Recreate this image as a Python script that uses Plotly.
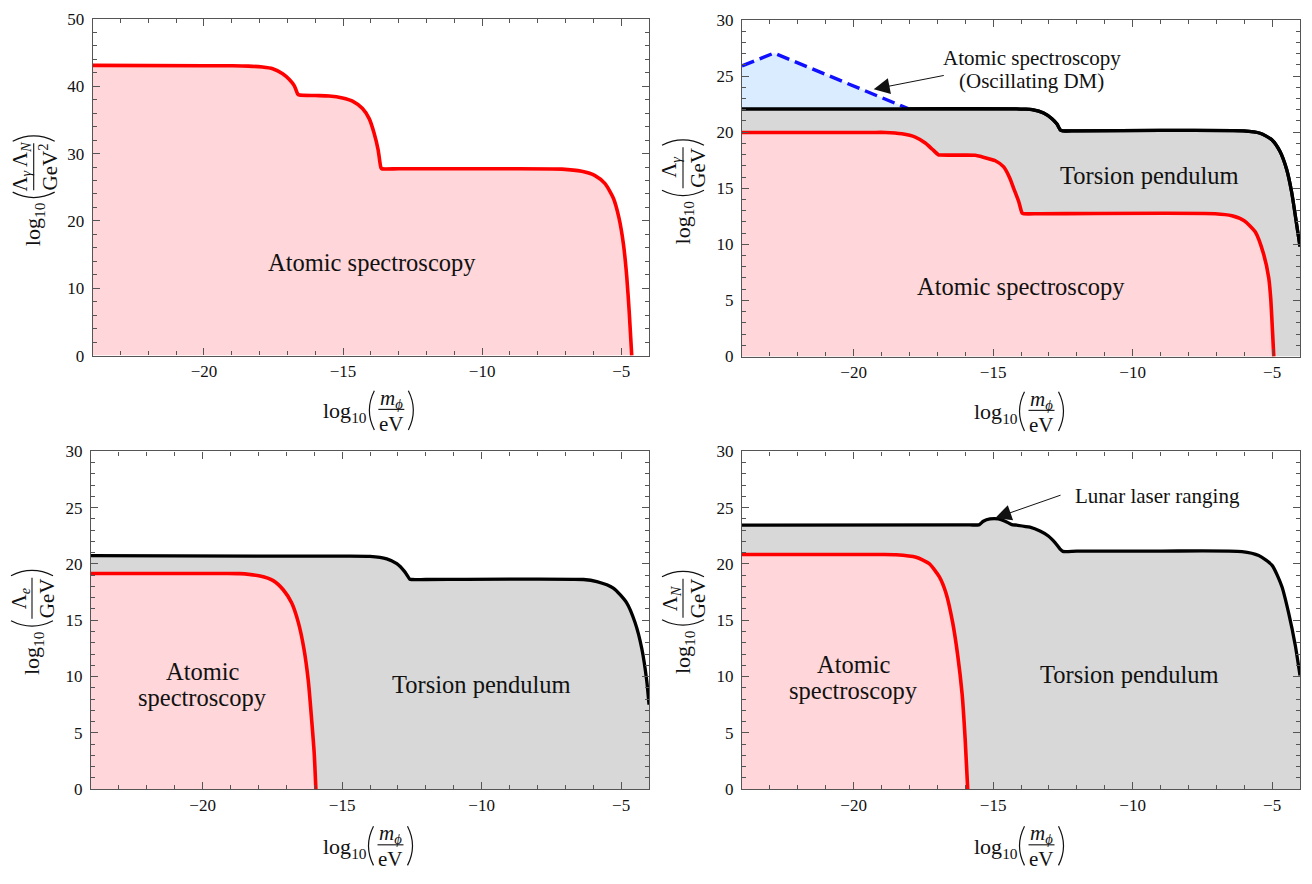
import plotly.graph_objects as go
import numpy as np

W, H = 1312, 884
OFF = 8  # the page body adds an 8px margin; reference pixel positions are shifted by it

# ---------------- data ----------------
x_range = [-24, -4]

# Panel 1: log10(Lambda_gamma Lambda_N / GeV^2) -- atomic spectroscopy
tl_red_x = [-24.0, -20.0, -18.97, -18.4, -17.9, -17.53, -17.17, -16.93, -16.75, -16.63, -16.57,
            -16.0, -15.5, -15.02, -14.66, -14.30, -14.06, -13.88, -13.74, -13.64, -13.6, -13.0, -10.0,
            -7.13, -6.42, -5.94, -5.58, -5.28, -5.08, -4.92, -4.80, -4.71, -4.62]
tl_red_y = [43.1, 43.05, 43.05, 43.0, 42.85, 42.6, 41.86, 41.0, 40.07, 38.85, 38.7,
            38.62, 38.56, 38.27, 37.8, 36.7, 35.2, 33.0, 30.6, 27.95, 27.75, 27.75, 27.75,
            27.7, 27.37, 26.74, 25.53, 23.36, 20.45, 16.57, 11.73, 6.4, 0.0]

# Panel 2: log10(Lambda_gamma / GeV)
tr_black_x = [-24.0, -18.0, -14.2, -13.86, -13.6, -13.19, -12.89, -12.71, -12.59, -12.5, -12.0, -9.0,
              -6.03, -5.43, -5.01, -4.72, -4.48, -4.30, -4.12, -4.0]
tr_black_y = [22.08, 22.08, 22.08, 22.05, 22.0, 21.71, 21.2, 20.72, 20.2, 20.11, 20.12, 20.15,
              20.11, 19.9, 19.33, 18.3, 16.7, 14.67, 11.77, 9.8]
tr_red_x = [-24.0, -19.4, -18.86, -18.27, -17.79, -17.43, -17.19, -16.97, -16.9, -16.4, -15.64, -15.4,
            -14.92, -14.62, -14.4, -14.26, -14.08, -13.96, -13.9, -13.3, -7.04, -6.44, -6.0, -5.6,
            -5.3, -5.12, -5.05, -4.98, -4.94]
tr_red_y = [19.97, 19.97, 19.97, 19.85, 19.56, 19.03, 18.5, 18.0, 17.96, 17.95, 17.94, 17.8,
            17.45, 16.9, 15.9, 14.97, 13.8, 12.79, 12.73, 12.73, 12.73, 12.55, 12.1, 11.1,
            9.1, 7.0, 5.2, 2.0, 0.0]
tr_blue_x = [-24.0, -22.85, -18.05]
tr_blue_y = [25.9, 27.05, 22.1]

# Panel 3: log10(Lambda_e / GeV)
bl_black_x = [-24.0, -18.0, -15.43, -14.0, -13.4, -13.04, -12.75, -12.57, -12.5, -12.0, -6.35,
              -5.87, -5.28, -4.8, -4.5, -4.26, -4.08, -4.0]
bl_black_y = [20.75, 20.7, 20.7, 20.68, 20.46, 20.03, 19.3, 18.64, 18.62, 18.62, 18.62,
              18.43, 17.86, 16.55, 14.8, 12.5, 9.6, 7.5]
bl_red_x = [-24.0, -19.2, -18.66, -17.94, -17.47, -17.11, -16.81, -16.57, -16.37, -16.21, -16.09,
            -16.0, -15.94]
bl_red_y = [19.16, 19.16, 19.14, 18.93, 18.52, 17.71, 16.55, 14.81, 12.49, 9.59, 6.11, 3.2, 0.0]

# Panel 4: log10(Lambda_N / GeV)
br_black_x = [-24.0, -16.0, -15.49, -15.35, -15.11, -14.81, -14.57, -14.33, -14.15, -13.68, -13.32,
              -13.02, -12.78, -12.6, -12.5, -12.0, -9.0, -6.08, -5.48, -5.0, -4.65, -4.41, -4.17, -4.0]
br_black_y = [23.45, 23.47, 23.5, 23.8, 24.0, 24.0, 23.8, 23.5, 23.45, 23.27, 22.93,
              22.49, 21.9, 21.33, 21.12, 21.14, 21.15, 21.1, 20.75, 19.88, 18.0, 15.68, 12.78, 10.1]
br_red_x = [-24.0, -19.0, -18.48, -17.76, -17.29, -16.93, -16.69, -16.45, -16.27, -16.11, -16.0, -15.91]
br_red_y = [20.84, 20.84, 20.82, 20.6, 20.03, 18.87, 17.42, 14.81, 11.91, 8.43, 4.37, 0.0]

# ---------------- styling ----------------
FONT = "Liberation Serif"
RED = "#ff0000"
BLACK = "#000000"
BLUE = "#1010ff"
PINK = "rgb(255,215,218)"
GRAY = "rgb(216,216,216)"
LBLUE = "rgb(218,236,255)"
FRAME = "#555555"
TXT = "#111111"

# name, axis suffix, pixel box (left, right, top, bottom), ymax, major dtick, minor dtick, y numerator, y denominator, half bar
panels = [
    ("tl", "", (92.7, 649, 10, 354), 50, 10, 2, "Λ<sub><i>γ</i></sub> Λ<sub><i>N</i></sub>", "GeV<sup>2</sup>", 24),
    ("tr", "2", (742, 1300, 11, 355), 30, 5, 1, "Λ<sub><i>γ</i></sub>", "GeV", 21),
    ("bl", "3", (91, 649, 452, 797), 30, 5, 1, "Λ<sub><i>e</i></sub>", "GeV", 21),
    ("br", "4", (742, 1300, 452, 797), 30, 5, 1, "Λ<sub><i>N</i></sub>", "GeV", 20),
]

fig = go.Figure()
layout = dict(width=W, height=H, margin=dict(l=0, r=0, t=0, b=0),
              paper_bgcolor="white", plot_bgcolor="white", showlegend=False,
              font=dict(family=FONT, color=TXT))
annotations = []
shapes = []


def PX(px):
    return (px - OFF) / W


def PY(py):
    return 1 - (py - OFF) / H


for name, s, (l, r, t, b), ymax, dt, mdt, num, den, hl in panels:
    axis_common = dict(showgrid=False, zeroline=False, showline=True, linecolor=FRAME, linewidth=1.3,
                       mirror="ticks", ticks="inside", ticklen=7, tickwidth=1.1, tickcolor=FRAME,
                       tickfont=dict(family=FONT, size=17, color=TXT))
    layout["xaxis" + s] = dict(axis_common, domain=[PX(l), PX(r)], range=x_range, anchor="y" + s,
                               tick0=0, dtick=5,
                               minor=dict(dtick=1, ticks="inside", ticklen=4, tickcolor=FRAME, tickwidth=1))
    layout["yaxis" + s] = dict(axis_common, domain=[PY(b), PY(t)], range=[0, ymax], anchor="x" + s,
                               tick0=0, dtick=dt, ticklabelstandoff=4,
                               minor=dict(dtick=mdt, ticks="inside", ticklen=4, tickcolor=FRAME, tickwidth=1))

    # ---- x label: log10( m_phi / eV ) ----
    fx = (l + r) / 2 + 20.5
    fy = b + (55 if t < 100 else 57)
    annotations.append(dict(xref="paper", yref="paper", x=PX(fx - 22), y=PY(fy + 3), xanchor="right",
                            yanchor="middle", showarrow=False, text="log<sub>10</sub>",
                            font=dict(family=FONT, size=22, color=TXT)))
    annotations.append(dict(xref="paper", yref="paper", x=PX(fx), y=PY(fy - 11), xanchor="center",
                            yanchor="middle", showarrow=False, text="<i>m</i><sub><i>ϕ</i></sub>",
                            font=dict(family=FONT, size=21, color=TXT)))
    annotations.append(dict(xref="paper", yref="paper", x=PX(fx), y=PY(fy + 15), xanchor="center",
                            yanchor="middle", showarrow=False, text="eV",
                            font=dict(family=FONT, size=21, color=TXT)))
    shapes.append(dict(type="line", xref="paper", yref="paper", x0=PX(fx - 13), x1=PX(fx + 13),
                       y0=PY(fy), y1=PY(fy), line=dict(color=TXT, width=1.1)))
    for sgn in (-1, 1):
        ex, cx = fx + sgn * 17, fx + sgn * 27
        shapes.append(dict(type="path", xref="paper", yref="paper",
                           path=f"M {PX(ex)},{PY(fy - 19)} Q {PX(cx)},{PY(fy + 1)} {PX(ex)},{PY(fy + 21)}",
                           line=dict(color=TXT, width=1.2)))

    # ---- y label: log10( num / den ), rotated ----
    lx = l - 59
    ly = t + 151 if t < 100 else t + 150
    annotations.append(dict(xref="paper", yref="paper", x=PX(lx + 1), y=PY(ly + hl + 35), xanchor="center",
                            yanchor="middle", showarrow=False, text="log<sub>10</sub>", textangle=-90,
                            font=dict(family=FONT, size=22, color=TXT)))
    annotations.append(dict(xref="paper", yref="paper", x=PX(lx - 12), y=PY(ly), xanchor="center",
                            yanchor="middle", showarrow=False, text=num, textangle=-90, borderpad=0,
                            font=dict(family=FONT, size=20.5, color=TXT)))
    annotations.append(dict(xref="paper", yref="paper", x=PX(lx + 15), y=PY(ly), xanchor="center",
                            yanchor="middle", showarrow=False, text=den, textangle=-90,
                            font=dict(family=FONT, size=21, color=TXT)))
    shapes.append(dict(type="line", xref="paper", yref="paper", x0=PX(lx), x1=PX(lx),
                       y0=PY(ly - hl), y1=PY(ly + hl), line=dict(color=TXT, width=1.1)))
    for sgn in (-1, 1):
        ey, cy = ly + sgn * (hl + 2), ly + sgn * (hl + 13)
        shapes.append(dict(type="path", xref="paper", yref="paper",
                           path=f"M {PX(lx - 21)},{PY(ey)} Q {PX(lx)},{PY(cy)} {PX(lx + 21)},{PY(ey)}",
                           line=dict(color=TXT, width=1.2)))


def add_region(xs, ys, s, line_color, fill_color, width=3.3):
    fig.add_trace(go.Scatter(x=xs, y=ys, mode="lines", fill="tozeroy", fillcolor=fill_color,
                             line=dict(color=line_color, width=width, shape="spline", smoothing=0.6),
                             xaxis="x" + s, yaxis="y" + s, hoverinfo="skip"))


# Panel 1
add_region(tl_red_x, tl_red_y, "", RED, PINK, 3.6)

# Panel 2
add_region(tr_black_x, tr_black_y, "2", BLACK, GRAY)
add_region(tr_red_x, tr_red_y, "2", RED, PINK, 3.6)
blue_floor = np.interp(tr_blue_x, tr_black_x, tr_black_y)
fig.add_trace(go.Scatter(x=tr_blue_x, y=blue_floor, mode="lines", line=dict(width=0, color=LBLUE),
                         xaxis="x2", yaxis="y2", hoverinfo="skip"))
fig.add_trace(go.Scatter(x=tr_blue_x, y=tr_blue_y, mode="lines", fill="tonexty", fillcolor=LBLUE,
                         line=dict(color=BLUE, width=3.4, dash="13px,6px"), xaxis="x2", yaxis="y2",
                         hoverinfo="skip"))
fig.add_trace(go.Scatter(x=tr_black_x, y=tr_black_y, mode="lines",
                         line=dict(color=BLACK, width=3.3, shape="spline", smoothing=0.6),
                         xaxis="x2", yaxis="y2", hoverinfo="skip"))

# Panel 3
add_region(bl_black_x, bl_black_y, "3", BLACK, GRAY)
add_region(bl_red_x, bl_red_y, "3", RED, PINK, 3.6)

# Panel 4
add_region(br_black_x, br_black_y, "4", BLACK, GRAY)
add_region(br_red_x, br_red_y, "4", RED, PINK, 3.6)

# ---------------- in-plot labels ----------------
BIG = 24.5
SMALL = 21


def label(text, x, y, s, size=BIG):
    annotations.append(dict(xref="x" + s, yref="y" + s, x=x, y=y, text=text, showarrow=False,
                            xanchor="center", yanchor="middle",
                            font=dict(family=FONT, size=size, color=TXT)))


label("Atomic spectroscopy", -13.97, 13.85, "")
label("Torsion pendulum", -9.39, 16.13, "2")
label("Atomic spectroscopy", -14.0, 6.22, "2")
label("Atomic spectroscopy", -13.61, 26.63, "2", SMALL)
label("(Oscillating DM)", -13.61, 24.59, "2", SMALL)
label("Atomic", -19.99, 10.46, "3")
label("spectroscopy", -19.99, 8.14, "3")
label("Torsion pendulum", -10.0, 9.30, "3")
label("Atomic", -20.0, 11.07, "4")
label("spectroscopy", -20.0, 8.72, "4")
label("Torsion pendulum", -10.11, 10.17, "4")
label("Lunar laser ranging", -9.11, 26.0, "4", SMALL)

# arrows
annotations.append(dict(xref="x2", yref="y2", x=-19.28, y=23.83, ax=71.6, ay=-14, text="",
                        showarrow=True, arrowhead=2, arrowsize=3.2, arrowwidth=1.0, arrowcolor=TXT))
annotations.append(dict(xref="x4", yref="y4", x=-14.92, y=24.09, ax=66.7, ay=-23.3, text="",
                        showarrow=True, arrowhead=2, arrowsize=3.2, arrowwidth=1.0, arrowcolor=TXT))

layout["annotations"] = annotations
layout["shapes"] = shapes
fig.update_layout(**layout)
fig.write_html("out.html")
